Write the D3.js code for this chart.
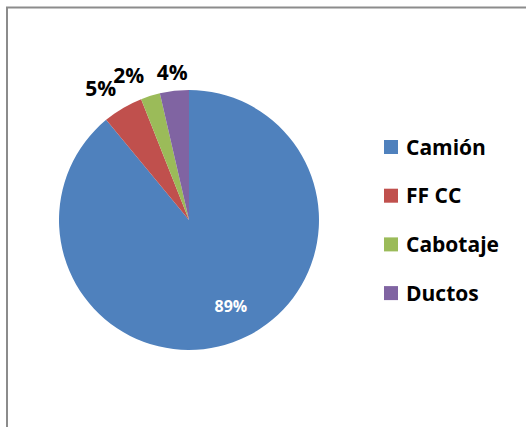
<!DOCTYPE html>
<html>
<head>
<meta charset="utf-8">
<script src="https://cdn.jsdelivr.net/npm/d3@7"></script>
<style>
  html, body { margin: 0; padding: 0; background: #fff; }
  svg { display: block; }
</style>
</head>
<body>
<div id="chart"></div>
<script>
// Data
const categories = ['Camión', 'FF CC', 'Cabotaje', 'Ductos'];
const values = [89.0, 5.0, 2.4, 3.6];
const colors = ['#4F81BD', '#C0504D', '#9BBB59', '#8064A2'];

const W = 526, H = 427;
const font = '"Open Sans", Lato, sans-serif';
const svg = d3.select('#chart').append('svg')
  .attr('width', W).attr('height', H);

// chart area frame
svg.append('rect')
  .attr('x', 7).attr('y', 7.5)
  .attr('width', W + 10).attr('height', H + 10)
  .attr('fill', '#fff').attr('stroke', '#8c8c8c').attr('stroke-width', 2);

const cx = 189, cy = 220, r = 130;
const data = categories.map((c, i) => ({cat: c, value: values[i], color: colors[i]}));
const total = d3.sum(values);

const pie = d3.pie().value(d => d.value).sort(null);
const arc = d3.arc().innerRadius(0).outerRadius(r);
const arcs = pie(data);

const g = svg.append('g').attr('transform', `translate(${cx},${cy})`);
g.selectAll('path').data(arcs).enter().append('path')
  .attr('d', arc)
  .attr('fill', d => d.data.color);

// labels: best-fit nudges (angle in degrees, radius factor) like Excel does
const nudge = [[-6, 0.74], [-3.2, 1.22], [-5.4, 1.205], [0, 1.145]];
const pct = d => Math.round(d.data.value / total * 100) + '%';
g.selectAll('.lbl').data(arcs).enter().append('text')
  .attr('class', 'lbl')
  .attr('transform', (d, i) => {
    const a = (d.startAngle + d.endAngle) / 2 + nudge[i][0] * Math.PI / 180;
    const R = r * nudge[i][1];
    return `translate(${R * Math.sin(a)},${-R * Math.cos(a)})`;
  })
  .attr('text-anchor', 'middle')
  .attr('dy', '0.36em')
  .attr('font-family', font)
  .attr('font-weight', 'bold')
  .attr('font-size', (d, i) => i === 0 ? '16px' : '21px')
  .attr('fill', (d, i) => i === 0 ? '#fff' : '#000')
  .text(pct);

// legend
const legend = svg.append('g').attr('transform', 'translate(384,147)');
const item = legend.selectAll('g').data(data).enter().append('g')
  .attr('transform', (d, i) => `translate(0,${i * 48.7})`);
item.append('rect')
  .attr('x', 0).attr('y', -7).attr('width', 14).attr('height', 14)
  .attr('fill', d => d.color);
item.append('text')
  .attr('x', 22).attr('y', 0).attr('dy', '0.36em')
  .attr('font-family', font)
  .attr('font-weight', 'bold')
  .attr('font-size', '21px')
  .attr('fill', '#000')
  .text(d => d.cat);
</script>
</body>
</html>
